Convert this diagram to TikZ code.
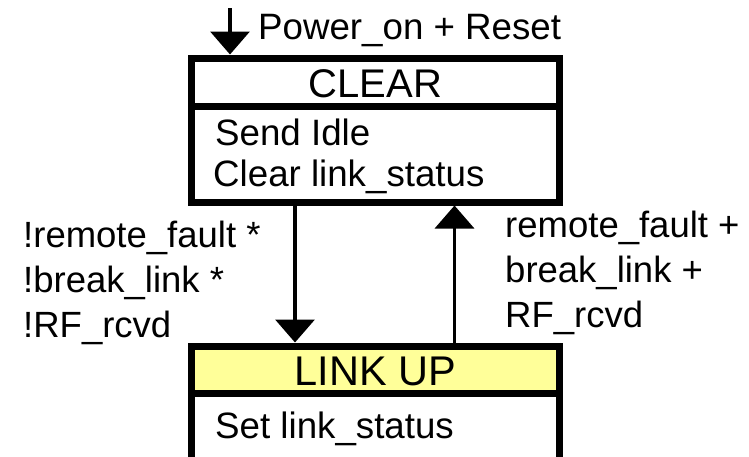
\documentclass[tikz,border=0pt]{standalone}
\usepackage{fontspec}
\setmainfont{Liberation Sans}
\usetikzlibrary{arrows.meta}
\definecolor{stateyellow}{HTML}{FFFF99}
\begin{document}
\begin{tikzpicture}[x=1pt,y=-1pt,
  box/.style={draw, line width=7pt, rectangle, inner sep=0pt, minimum width=368pt},
  txt/.style={anchor=base west, inner sep=0pt, font=\fontsize{36.7}{44}\selectfont},
  ttl/.style={anchor=base, inner sep=0pt},
  lbl/.style={anchor=base west, inner sep=0pt, font=\fontsize{36.5}{44}\selectfont},
  flow/.style={line width=3.5pt, -{Triangle[length=23pt,width=39pt]}},
]
\useasboundingbox (0,0) rectangle (749,456);
\clip (0,0) rectangle (749,456);

% CLEAR state
\node[box, minimum height=96pt] (clearB) at (375.5,154) {};
\node[box, minimum height=48pt] (clearT) at (375.5,82) {};
\node[ttl, font=\fontsize{40}{48}\selectfont] (clearName) at (375.5,97) {CLEAR};
\node[txt] (clearA1) at (215,145) {Send Idle};
\node[txt] (clearA2) at (213,186) {Clear link\_status};

% LINK UP state
\node[box, minimum height=107pt] (linkB) at (375.5,446.5) {};
\node[box, fill=stateyellow, minimum height=47pt] (linkT) at (375.5,369.5) {};
\node[ttl, font=\fontsize{41.5}{50}\selectfont] (linkName) at (375.5,385) {LINK UP};
\node[txt] (linkA1) at (215,438) {Set link\_status};

% entry transition
\coordinate (entry) at (230,8);
\draw[flow] (entry) -- (entry |- clearT.north);
\node[txt] (entryLbl) at (258,39) {Power\_on + Reset};

% CLEAR -> LINK UP
\draw[flow] ([xshift=-80.5pt]clearB.south) -- ([xshift=-80.5pt]linkT.north);
\node[lbl] (upL1) at (23,247) {!remote\_fault *};
\node[lbl] (upL2) at (23,292) {!break\_link *};
\node[lbl] (upL3) at (23,337) {!RF\_rcvd};

% LINK UP -> CLEAR
\draw[flow] ([xshift=79pt]linkT.north) -- ([xshift=79pt]clearB.south);
\node[lbl] (dnL1) at (505,237) {remote\_fault +};
\node[lbl] (dnL2) at (505,282) {break\_link +};
\node[lbl] (dnL3) at (505,327) {RF\_rcvd};
\end{tikzpicture}
\end{document}
